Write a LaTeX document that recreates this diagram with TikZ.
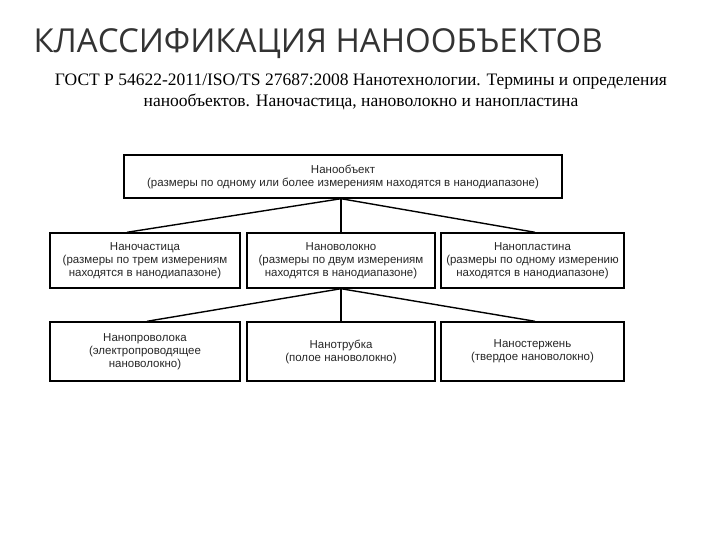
\documentclass[tikz,border=0pt]{standalone}
\usepackage{fontspec}
\setmainfont{Liberation Serif}
\newfontfamily\titlefont{Open Sans}
\newfontfamily\boxfont{Liberation Sans}
\begin{document}
\begin{tikzpicture}[x=1pt,y=-1pt,
  bx/.style={draw,line width=1.4pt,inner sep=0pt,align=center,font=\boxfont\fontsize{11.5}{13}\selectfont,text=black!85},
  ln/.style={line width=1.4pt}]
\useasboundingbox (0,0) rectangle (720,540);
\node[anchor=west,font=\titlefont\fontsize{33}{38}\selectfont,text=black!80] (title) at (30,44) {КЛАССИФИКАЦИЯ НАНООБЪЕКТОВ};
\node[align=center,font=\fontsize{17.5}{21}\selectfont] (sub) at (361,92) {ГОСТ Р 54622-2011/ISO/TS 27687:2008 Нанотехнологии. Термины и определения\\ нанообъектов. Наночастица, нановолокно и нанопластина};
\node[bx,minimum width=438,minimum height=43] (top) at (343,176.5) {Нанообъект\\(размеры по одному или более измерениям находятся в нанодиапазоне)};
\node[bx,minimum width=190,minimum height=55] (m1) at (145,260.5) {Наночастица\\(размеры по трем измерениям\\находятся в нанодиапазоне)};
\node[bx,minimum width=188,minimum height=55] (m2) at (341,260.5) {Нановолокно\\(размеры по двум измерениям\\находятся в нанодиапазоне)};
\node[bx,minimum width=183,minimum height=55] (m3) at (532.5,260.5) {Нанопластина\\(размеры по одному измерению\\находятся в нанодиапазоне)};
\node[bx,minimum width=190,minimum height=59] (b1) at (145,351.5) {Нанопроволока\\(электропроводящее\\нановолокно)};
\node[bx,minimum width=188,minimum height=59] (b2) at (341,351.5) {Нанотрубка\\(полое нановолокно)};
\node[bx,minimum width=183,minimum height=59] (b3) at (532.5,351.5) {Наностержень\\(твердое нановолокно)};
\coordinate (t0) at (top.south -| m2.north);
\coordinate (m0) at (m2.south);
\draw[ln] (t0) -- (m1.north -| 127,0);
\draw[ln] (t0) -- (m2.north);
\draw[ln] (t0) -- (m3.north -| 535,0);
\draw[ln] (m0) -- (b1.north -| 147,0);
\draw[ln] (m0) -- (b2.north);
\draw[ln] (m0) -- (b3.north -| 535,0);
\end{tikzpicture}
\end{document}
